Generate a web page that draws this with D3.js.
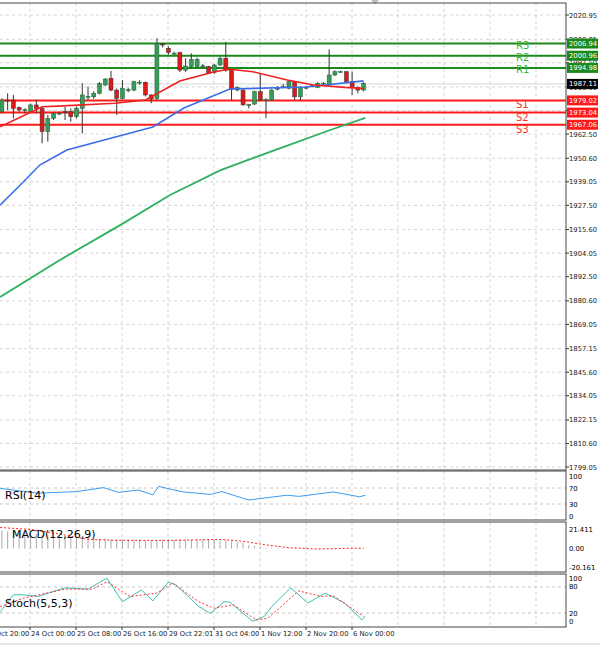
<!DOCTYPE html><html><head><meta charset="utf-8"><script src="https://d3js.org/d3.v7.min.js"></script>
<style>body{margin:0;background:#fff}svg text{font-family:"DejaVu Sans",sans-serif}</style></head><body><svg id="c" width="600" height="646"></svg>
<script>
// OHLC [open, high, low, close]
const candles=[[1973.5,1980.0,1972.7,1979.2],[1979.2,1982.5,1974.3,1979.0],[1979.2,1981.7,1970.2,1975.1],[1975.6,1976.0,1973.5,1974.3],[1974.3,1975.1,1972.7,1974.5],[1973.5,1977.5,1973.0,1976.8],[1976.8,1979.2,1972.7,1975.1],[1975.1,1975.9,1958.0,1963.7],[1963.7,1971.9,1958.8,1970.2],[1970.2,1973.5,1969.4,1972.7],[1972.7,1973.5,1971.9,1972.8],[1973.5,1975.9,1969.4,1973.3],[1973.5,1975.1,1968.6,1971.0],[1971.0,1976.0,1970.2,1975.1],[1975.1,1987.4,1962.8,1981.7],[1980.8,1985.8,1979.2,1981.0],[1980.8,1983.5,1979.8,1982.5],[1982.5,1988.0,1982.0,1987.4],[1986.6,1990.0,1986.0,1989.5],[1989.9,1993.5,1983.5,1984.1],[1984.1,1984.9,1971.9,1980.0],[1980.0,1989.0,1979.5,1984.9],[1984.1,1985.2,1983.0,1984.3],[1984.1,1988.7,1983.5,1988.2],[1987.9,1989.0,1986.6,1988.0],[1987.9,1988.3,1981.0,1981.7],[1981.7,1982.0,1977.6,1979.7],[1980.0,2009.5,1979.2,2007.0],[2006.7,2007.2,2005.0,2006.5],[2004.6,2005.5,2001.5,2002.6],[2002.1,2003.0,2001.5,2002.2],[2002.5,2003.0,1993.0,1993.9],[1993.9,1999.7,1993.0,1995.9],[1995.6,2002.1,1995.0,1999.2],[1995.6,2000.0,1995.0,1999.2],[1995.9,1997.0,1995.0,1996.0],[1995.6,1996.0,1992.0,1992.3],[1992.6,1997.0,1992.0,1996.4],[1996.4,2000.5,1996.0,1999.7],[1999.7,2007.8,1993.1,1993.9],[1993.9,1994.5,1979.2,1984.4],[1984.1,1986.0,1983.5,1985.4],[1984.1,1984.5,1976.5,1976.8],[1976.8,1977.3,1975.1,1976.9],[1977.2,1983.8,1976.8,1983.3],[1983.3,1992.3,1979.0,1979.2],[1979.2,1980.0,1970.2,1979.4],[1979.2,1984.6,1978.8,1984.1],[1984.9,1986.0,1984.0,1985.0],[1985.8,1987.0,1985.0,1985.9],[1985.0,1988.6,1984.5,1988.2],[1988.2,1988.6,1979.2,1980.8],[1980.8,1986.0,1979.2,1985.4],[1985.4,1986.2,1984.5,1985.5],[1986.1,1987.0,1985.5,1986.2],[1985.4,1988.0,1985.0,1987.4],[1987.4,1988.0,1986.8,1987.5],[1986.6,2004.1,1986.0,1991.5],[1991.5,1993.8,1991.0,1993.1],[1993.1,1993.6,1992.7,1993.2],[1993.1,1993.5,1987.5,1988.2],[1988.2,1993.1,1981.7,1985.4],[1985.4,1986.0,1982.5,1984.1],[1984.1,1988.0,1983.5,1987.4]];
// MA vertices [candle index, value]
const maFast=[[-0.3,1966.1],[7,1975.9],[9.7,1976.2],[19.7,1977.6],[25,1979.2],[31,1988.5],[37,1993.1],[39.7,1994.3],[43.7,1993.1],[49.7,1989.0],[54.3,1986.6],[59.7,1985.4],[63,1984.9]];
const maMid=[[-0.3,1927.7],[3.2,1937.5],[6.6,1947.3],[11.3,1954.7],[26.3,1966.0],[31.7,1975.3],[39.7,1984.6],[53,1985.6],[63,1988.6]];
const maSlow=[[-0.3,1882.5],[10.1,1900.7],[20.6,1917.8],[29.3,1932.6],[38,1944.7],[48.5,1955.6],[57.2,1964.5],[63.3,1970.4]];
const levels=[["R3",2006.94,"g"],["R2",2000.96,"g"],["R1",1994.98,"g"],["S1",1979.02,"r"],["S2",1973.04,"r"],["S3",1967.06,"r"]];
const lastPrice=1987.11;
const priceTicks=[2020.95,2009.05,1997.50,1985.60,1974.05,1962.50,1950.60,1939.05,1927.50,1915.60,1904.05,1892.50,1880.60,1869.05,1857.15,1845.60,1834.05,1822.15,1810.60,1799.05];
const rsi=[[-0.3,69],[6.3,57],[13,61],[17.7,71],[20.3,59],[23.7,65],[26.3,53],[27.3,74],[30.3,64],[31.7,60],[36.3,54],[38.3,61],[43,40],[46.3,46],[49.7,52],[51.7,49],[57.7,60],[62.3,48],[63.3,52]];
const macdHist=[20,19,19,18,17,17,16,15,15,14,14,13,13,12,12,12,11,11,11,10,10,10,10,10,10,9,9,9,10,10,10,10,10,10,10,10,10,10,9,9,8,7,6,4,3,2,1,1,0.5,0.5,0.5,0.5,0.3,0.3,0.3,0.3,0.3,0.3,0.3,0.3,0.3,0.3,0.3,0.3];
const macdSignal=[[-0.3,23],[5,21],[10,16],[15,10],[20,9],[30,9],[38,10],[42,8],[46,4],[50,1],[55,-0.5],[60,0.3],[63,0.3]];
const stochMain=[[-0.3,23],[2,62],[3.7,62],[6.3,58],[11,78],[15,75],[17.7,96],[18.3,100],[21,46],[24.3,73],[26.3,48],[29,91],[30.3,85],[34.3,35],[36.3,19],[38.7,46],[39.7,45],[43.7,1],[45.7,12],[47,35],[50.3,78],[53.3,43],[56.3,66],[59.7,43],[62.7,4],[63.3,12]];
const stochSig=[[-0.3,35],[3.7,54],[11,75],[15.7,75],[18.3,92],[22.3,58],[27,66],[29.7,89],[34.3,46],[37,31],[40.3,39],[44.3,4],[46.3,8],[51.7,71],[55.7,58],[57.7,60],[63,12]];
const timeLabels=["23 Oct 20:00","24 Oct 00:00","25 Oct 08:00","26 Oct 16:00","29 Oct 22:01","31 Oct 04:00","1 Nov 12:00","2 Nov 20:00","6 Nov 00:00"];

const svg=d3.select("#c");
const R=566;
const x=d3.scaleLinear().domain([0,63]).range([1.9,363.6]);
const y=d3.scaleLinear().domain([1799.05,2020.95]).range([467,15]);
const gridX=d3.range(-16,R,46);
const panels=[[3,470],[471,520],[522,572],[574,627]];
panels.forEach(([t,b])=>{
  gridX.forEach(g=>{ if(g>0) svg.append("line").attr("x1",g).attr("x2",g).attr("y1",t).attr("y2",b).attr("stroke","#c8c8c8").attr("stroke-dasharray","3,3").attr("stroke-width",0.8);});
});
priceTicks.forEach(v=>{
  svg.append("line").attr("x1",0).attr("x2",R).attr("y1",y(v)).attr("y2",y(v)).attr("stroke","#c8c8c8").attr("stroke-dasharray","3,3").attr("stroke-width",0.8);
});
const ax=svg.append("g").attr("font-size",6.8).attr("fill","#222");
priceTicks.forEach(v=>{
  svg.append("line").attr("x1",R).attr("x2",R+3).attr("y1",y(v)).attr("y2",y(v)).attr("stroke","#333");
  ax.append("text").attr("x",R+3).attr("y",y(v)+2.5).text(v.toFixed(2));
});
levels.forEach(([n,v,c])=>{
  const col=c=="g"?"#1a8a1a":"#ff1a1a";
  svg.append("line").attr("x1",0).attr("x2",R).attr("y1",y(v)).attr("y2",y(v)).attr("stroke",col).attr("stroke-width",2);
  svg.append("rect").attr("x",R+1).attr("y",y(v)-5).attr("width",31).attr("height",10).attr("fill",col);
  svg.append("text").attr("x",R+3).attr("y",y(v)+2.5).attr("font-size",6.8).attr("fill","#fff").text(v.toFixed(2));
  svg.append("text").attr("x",516).attr("y",y(v)+ (c=="g"?5:8)).attr("font-size",10).attr("fill",c=="g"?"#3cb43c":"#ff3030").text(n);
});
svg.append("line").attr("x1",0).attr("x2",R).attr("y1",y(lastPrice)).attr("y2",y(lastPrice)).attr("stroke","#ccc").attr("stroke-width",0.8);
svg.append("rect").attr("x",R+1).attr("y",y(lastPrice)-5).attr("width",31).attr("height",10).attr("fill","#000");
svg.append("text").attr("x",R+3).attr("y",y(lastPrice)+2.5).attr("font-size",6.8).attr("fill","#fff").text(lastPrice.toFixed(2));
const cg=svg.append("g");
candles.forEach((d,i)=>{
  const [o,h,l,c]=d, cx=x(i);
  cg.append("line").attr("x1",cx).attr("x2",cx).attr("y1",y(h)).attr("y2",y(l)).attr("stroke","#333").attr("stroke-width",1);
  const top=y(Math.max(o,c)), hgt=Math.max(1,Math.abs(y(o)-y(c)));
  cg.append("rect").attr("x",cx-2).attr("y",top).attr("width",4).attr("height",hgt)
    .attr("fill",c>o?"#3a9a5a":(c<o?"#e01818":"#333")).attr("stroke",c>o?"#1f5f35":"#333").attr("stroke-width",0.5);
});
const ln=d3.line().x(d=>x(d[0])).y(d=>y(d[1]));
svg.append("path").attr("d",ln(maSlow)).attr("fill","none").attr("stroke","#2eb060").attr("stroke-width",1.8);
svg.append("path").attr("d",ln(maMid)).attr("fill","none").attr("stroke","#3a6ee8").attr("stroke-width",1.6);
svg.append("path").attr("d",ln(maFast)).attr("fill","none").attr("stroke","#f02020").attr("stroke-width",1.6);
svg.append("path").attr("d","M371,0 L379,0 L375,4 Z").attr("fill","#bbb");
const yr=d3.scaleLinear().domain([0,100]).range([516,476]);
[70,30].forEach(v=>svg.append("line").attr("x1",0).attr("x2",R).attr("y1",yr(v)).attr("y2",yr(v)).attr("stroke","#c8c8c8").attr("stroke-dasharray","3,3"));
[100,70,30,0].forEach(v=>{svg.append("text").attr("x",R+3).attr("y",yr(v)+2.5).attr("font-size",6.8).text(v);});
svg.append("path").attr("d",d3.line().x(d=>x(d[0])).y(d=>yr(d[1]))(rsi)).attr("fill","none").attr("stroke","#3d9bf0").attr("stroke-width",1);
svg.append("text").attr("x",5).attr("y",499).attr("font-size",11).attr("font-family","Liberation Sans").text("RSI(14)");
const ym=d3.scaleLinear().domain([-20.161,21.411]).range([567,529]);
macdHist.forEach((v,i)=>svg.append("line").attr("x1",x(i)).attr("x2",x(i)).attr("y1",ym(0)).attr("y2",ym(v)).attr("stroke","#aaa").attr("stroke-width",1));
svg.append("path").attr("d",d3.line().x(d=>x(d[0])).y(d=>ym(d[1]))(macdSignal)).attr("fill","none").attr("stroke","#ff2020").attr("stroke-dasharray","2,2").attr("stroke-width",1);
[21.411,0,-20.161].forEach(v=>svg.append("text").attr("x",R+3).attr("y",ym(v)+2.5).attr("font-size",6.8).text(v.toFixed(v==0?2:3)));
svg.append("text").attr("x",12).attr("y",538).attr("font-size",11).attr("font-family","Liberation Sans").text("MACD(12,26,9)");
const ys=d3.scaleLinear().domain([0,100]).range([621.7,578.3]);
[80,20].forEach(v=>svg.append("line").attr("x1",0).attr("x2",R).attr("y1",ys(v)).attr("y2",ys(v)).attr("stroke","#c8c8c8").attr("stroke-dasharray","3,3"));
[100,80,20,0].forEach(v=>svg.append("text").attr("x",R+3).attr("y",ys(v)+2.5).attr("font-size",6.8).text(v));
svg.append("path").attr("d",d3.line().x(d=>x(d[0])).y(d=>ys(d[1]))(stochMain)).attr("fill","none").attr("stroke","#3cc0b0").attr("stroke-width",1);
svg.append("path").attr("d",d3.line().x(d=>x(d[0])).y(d=>ys(d[1]))(stochSig)).attr("fill","none").attr("stroke","#ff3030").attr("stroke-dasharray","2,2").attr("stroke-width",1);
svg.append("text").attr("x",5).attr("y",607).attr("font-size",11).attr("font-family","Liberation Sans").text("Stoch(5,5,3)");
panels.forEach(([t,b])=>svg.append("rect").attr("x",-2).attr("y",t).attr("width",R+2).attr("height",b-t).attr("fill","none").attr("stroke","#444").attr("stroke-width",1));
timeLabels.forEach((t,i)=>{
  const gx=gridX[i];
  svg.append("line").attr("x1",gx).attr("x2",gx).attr("y1",627).attr("y2",630).attr("stroke","#333");
  svg.append("text").attr("x",gx+1).attr("y",636).attr("font-size",6.8).attr("fill","#222").text(t);
});
svg.append("line").attr("x1",0).attr("x2",600).attr("y1",644).attr("y2",644).attr("stroke","#ccc");
</script></body></html>
